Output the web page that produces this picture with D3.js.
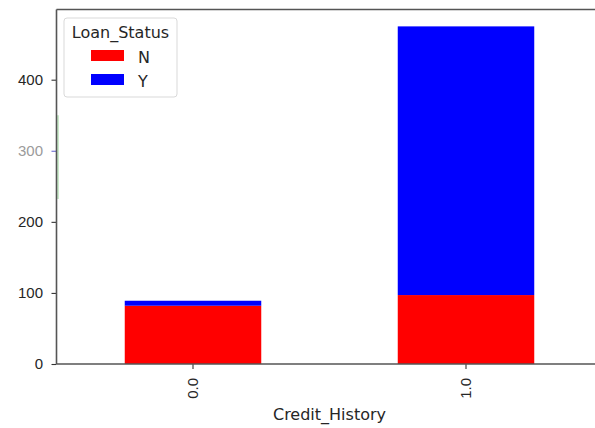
<!DOCTYPE html>
<html>
<head>
<meta charset="utf-8">
<script src="https://cdn.jsdelivr.net/npm/d3@7"></script>
<style>
  html, body { margin: 0; padding: 0; background: #fff; }
  svg { display: block; font-family: "DejaVu Sans", sans-serif; }
</style>
</head>
<body>
<svg id="chart" width="595" height="428"></svg>
<script>
// Loan counts by credit history, stacked by loan status
const categories = ["0.0", "1.0"];
const statuses = ["N", "Y"];
const countsN = [82, 97];
const countsY = [7, 378];
const yTicks = [0, 100, 200, 300, 400];
const colors = { N: "#ff0000", Y: "#0000ff" };

(function draw() {
  const svg = d3.select("#chart");
  const plotLeft = 56.5, plotRight = 602.5, plotTop = 9.5, plotBottom = 364;
  const tickFont = "15px", labelFont = "16px", ink = "#262626";

  const rows = categories.map((c, i) => ({ cat: c, N: countsN[i], Y: countsY[i] }));
  const stacked = d3.stack().keys(statuses)(rows);

  const x = d3.scaleBand().domain(categories).range([plotLeft, plotRight])
    .paddingInner(0.5).paddingOuter(0.25);
  const maxTotal = d3.max(rows, d => d.N + d.Y);
  const y = d3.scaleLinear().domain([0, maxTotal * 1.05]).range([plotBottom, plotTop]);

  // stacked bars
  svg.append("g").selectAll("g").data(stacked).join("g")
    .attr("fill", d => colors[d.key])
    .selectAll("rect").data(d => d).join("rect")
    .attr("x", d => x(d.data.cat))
    .attr("width", x.bandwidth())
    .attr("y", d => y(d[1]))
    .attr("height", d => y(d[0]) - y(d[1]));

  // faint green stroke beside the left spine
  svg.append("line")
    .attr("x1", 58).attr("x2", 58)
    .attr("y1", y(350)).attr("y2", y(232))
    .attr("stroke", "#a8dca8").attr("stroke-width", 1.2);

  // y axis
  const yAxis = svg.append("g").attr("transform", `translate(${plotLeft},0)`)
    .call(d3.axisLeft(y).tickValues(yTicks).tickSize(5).tickPadding(8.5));
  yAxis.select(".domain").remove();
  yAxis.selectAll(".tick line").attr("stroke", "#333").attr("stroke-width", 1.1);
  yAxis.selectAll(".tick text").attr("fill", ink).style("font-size", tickFont);
  yAxis.selectAll(".tick").filter(d => d === 300).each(function () {
    d3.select(this).select("text").attr("fill", "#8a8a8a").attr("opacity", 0.85);
    d3.select(this).select("line").attr("stroke", "#6b6bd0");
  });

  // x axis
  const xAxis = svg.append("g").attr("transform", `translate(0,${plotBottom})`)
    .call(d3.axisBottom(x).tickSize(5).tickPadding(0));
  xAxis.select(".domain").remove();
  xAxis.selectAll(".tick line").attr("stroke", "#333").attr("stroke-width", 1.1);
  xAxis.selectAll(".tick text")
    .attr("fill", ink).style("font-size", tickFont)
    .attr("transform", "translate(0,14) rotate(-90)")
    .attr("text-anchor", "end").attr("dy", "0.35em").attr("y", 0).attr("x", 0);

  // spines (right edge falls outside the canvas)
  const spineColor = "#555", spineWidth = 1.6;
  [[plotLeft, plotTop, plotLeft, plotBottom],
   [plotLeft, plotTop, plotRight, plotTop],
   [plotLeft, plotBottom, plotRight, plotBottom]].forEach(([x1, y1, x2, y2]) => {
    svg.append("line").attr("x1", x1).attr("y1", y1).attr("x2", x2).attr("y2", y2)
      .attr("stroke", spineColor).attr("stroke-width", spineWidth);
  });

  // x axis title
  svg.append("text")
    .attr("x", (plotLeft + plotRight) / 2).attr("y", 420)
    .attr("text-anchor", "middle").attr("fill", ink)
    .style("font-size", labelFont).text("Credit_History");

  // legend
  const lg = svg.append("g").attr("transform", "translate(64,18)");
  lg.append("rect").attr("width", 113).attr("height", 79).attr("rx", 3)
    .attr("fill", "#fff").attr("fill-opacity", 0.85)
    .attr("stroke", "#d9d9d9").attr("stroke-width", 1);
  lg.append("text").attr("x", 56.5).attr("y", 19.5).attr("text-anchor", "middle")
    .attr("fill", ink).style("font-size", labelFont).text("Loan_Status");
  statuses.forEach((s, i) => {
    lg.append("rect").attr("x", 27).attr("y", 32 + i * 24).attr("width", 33).attr("height", 11)
      .attr("fill", colors[s]);
    lg.append("text").attr("x", 74).attr("y", 44.5 + i * 24)
      .attr("fill", ink).style("font-size", labelFont).text(s);
  });
})();
</script>
</body>
</html>
